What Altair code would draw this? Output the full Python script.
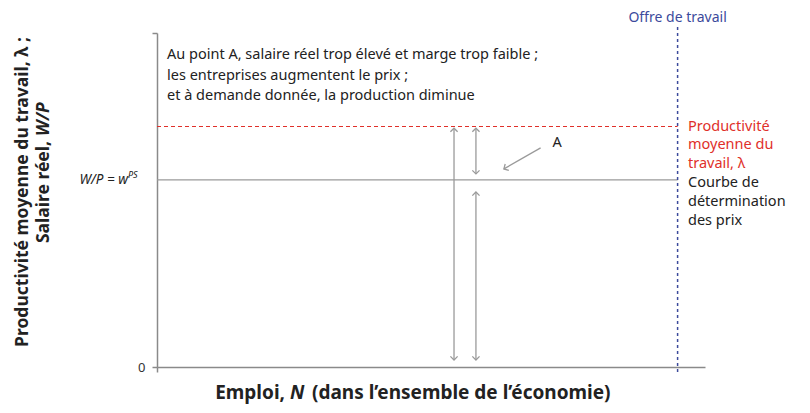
import altair as alt
import pandas as pd

x_max = 100.0
y_max = 100.0
lam = 72.0          # average productivity of labour, lambda
wps = 56.0          # price-setting real wage w^PS
n_supply = 95.0     # labour supply (vertical line)

# double-headed vertical arrows (x, top, bottom)
arrow_x = [54.2, 58.2, 58.2]
arrow_top = [71.5, 71.5, 52.4]
arrow_bot = [2.1, 57.8, 2.1]

# pointer arrow to point A
ptr_x = [70.0, 63.3]
ptr_y = [65.6, 59.3]
label_A_x = [73.0]
label_A_y = [67.0]

note_text = ("Au point A, salaire réel trop élevé et marge trop faible ;\n"
             "les entreprises augmentent le prix ;\n"
             "et à demande donnée, la production diminue")
red_text = "Productivité\nmoyenne du\ntravail, λ"
black_text = "Courbe de\ndétermination\ndes prix"
supply_text = "Offre de travail"

FONT = "Noto Sans"
GRAY = "#9a9a9a"
AXIS_GRAY = "#8a8a8a"
RED = "#e0302a"
BLUE = "#3c4a9c"
DARK = "#222222"

xs = alt.Scale(domain=[0, x_max], nice=False, zero=False)
ys = alt.Scale(domain=[0, y_max], nice=False, zero=False)

X_AX = alt.Axis(values=[0], labels=False, tickSize=5, grid=False, title=None,
                domainColor=AXIS_GRAY, tickColor=AXIS_GRAY, domainWidth=1.5, tickWidth=1.5)
Y_AX = alt.Axis(values=[0, y_max], labelExpr="datum.value == 0 ? '0' : ''",
                tickSize=5, grid=False, labelPadding=7, title=None,
                domainColor=AXIS_GRAY, tickColor=AXIS_GRAY, domainWidth=1.5, tickWidth=1.5,
                labelFont=FONT, labelFontSize=13, labelColor="#333333")


def X(f):
    return alt.X(f, scale=xs, axis=X_AX, title=None)


def Y(f):
    return alt.Y(f, scale=ys, axis=Y_AX, title=None)


# price-setting curve
wps_df = pd.DataFrame({"x": [0.0], "x2": [n_supply], "y": [wps]})
wps_rule = alt.Chart(wps_df).mark_rule(color=GRAY, strokeWidth=1.3).encode(
    x=X("x:Q"), x2="x2:Q", y=Y("y:Q"))

lam_df = pd.DataFrame({"x": [0.0], "x2": [n_supply], "y": [lam]})
lam_rule = alt.Chart(lam_df).mark_rule(color=RED, strokeWidth=1.2, strokeDash=[4, 3]).encode(
    x=X("x:Q"), x2="x2:Q", y=Y("y:Q"))

sup_df = pd.DataFrame({"x": [n_supply], "y": [101.8], "y2": [-1.5]})
sup_rule = alt.Chart(sup_df).mark_rule(color=BLUE, strokeWidth=1.5, strokeDash=[3, 3]).encode(
    x=X("x:Q"), y=Y("y:Q"), y2="y2:Q")

arr_df = pd.DataFrame({"x": arrow_x, "top": arrow_top, "bot": arrow_bot})
arr_rules = alt.Chart(arr_df).mark_rule(color=GRAY, strokeWidth=1.3).encode(
    x=X("x:Q"), y=Y("top:Q"), y2="bot:Q")

CHEV = "M-1,1L0,0L1,1"
heads_df = pd.DataFrame({
    "x": arrow_x + arrow_x + [ptr_x[1]],
    "y": arrow_top + arrow_bot + [ptr_y[1]],
    "ang": [0] * 3 + [180] * 3 + [240],
})
heads = alt.Chart(heads_df).mark_point(shape=CHEV, filled=False, size=52,
                                       color=GRAY, strokeWidth=1.3, opacity=1).encode(
    x=X("x:Q"), y=Y("y:Q"), angle=alt.Angle("ang:Q", scale=None))

ptr_df = pd.DataFrame({"x": [ptr_x[0]], "y": [ptr_y[0]], "x2": [ptr_x[1]], "y2": [ptr_y[1]]})
ptr_rule = alt.Chart(ptr_df).mark_rule(color=GRAY, strokeWidth=1.3).encode(
    x=X("x:Q"), x2="x2:Q", y=Y("y:Q"), y2="y2:Q")

labA = alt.Chart(pd.DataFrame({"x": label_A_x, "y": label_A_y, "t": ["A"]})).mark_text(
    font=FONT, fontSize=14.5, color=DARK, align="center", baseline="middle").encode(
    x=X("x:Q"), y=Y("y:Q"), text="t:N")


def txt(s, **kw):
    return alt.Chart(pd.DataFrame({"t": [s]})).mark_text(font=FONT, **kw).encode(text="t:N")


note = txt(note_text, fontSize=14.5, color=DARK, align="left", baseline="top",
           lineBreak="\n", lineHeight=20.5).encode(x=alt.value(10), y=alt.value(15))

red_lab = alt.Chart(pd.DataFrame({"y": [lam], "t": [red_text]})).mark_text(
    font=FONT, fontSize=14.5, color=RED, align="left", baseline="middle",
    lineBreak="\n", lineHeight=18.8).encode(
    x=alt.value(531), y=Y("y:Q"), text="t:N")

blk_lab = alt.Chart(pd.DataFrame({"y": [wps], "t": [black_text]})).mark_text(
    font=FONT, fontSize=14.5, color=DARK, align="left", baseline="middle",
    lineBreak="\n", lineHeight=18.8, dy=3).encode(
    x=alt.value(531), y=Y("y:Q"), text="t:N")

sup_lab = alt.Chart(pd.DataFrame({"x": [n_supply], "t": [supply_text]})).mark_text(
    font=FONT, fontSize=14, color=BLUE, align="center", baseline="middle").encode(
    x=X("x:Q"), y=alt.value(-15), text="t:N")

wp_lab = alt.Chart(pd.DataFrame({"y": [wps], "t": ["W/P = w"]})).mark_text(
    font=FONT, fontSize=13.5, fontStyle="italic", color=DARK, align="right",
    baseline="middle").encode(x=alt.value(-29), y=Y("y:Q"), text="t:N")
wp_sup = alt.Chart(pd.DataFrame({"y": [wps], "t": ["PS"]})).mark_text(
    font=FONT, fontSize=9, fontStyle="italic", color=DARK, align="left",
    baseline="middle", dy=-5).encode(x=alt.value(-29), y=Y("y:Q"), text="t:N")

# axis titles (mixed bold / bold italic)
xt1 = txt("Emploi,", fontSize=19, fontWeight="bold", color=DARK, align="right",
          baseline="middle").encode(x=alt.value(128), y=alt.value(360))
xt2 = txt("N", fontSize=19, fontWeight="bold", fontStyle="italic", color=DARK, align="left",
          baseline="middle").encode(x=alt.value(133), y=alt.value(360))
xt3 = txt("(dans l’ensemble de l’économie)", fontSize=19, fontWeight="bold", color=DARK,
          align="left", baseline="middle").encode(x=alt.value(155), y=alt.value(360))

yt1 = txt("Productivité moyenne du travail, λ ;", fontSize=17.5, fontWeight="bold", color=DARK,
          align="center", baseline="middle", angle=270).encode(x=alt.value(-134), y=alt.value(159))
yt2 = txt("Salaire réel,", fontSize=17.5, fontWeight="bold", color=DARK,
          align="right", baseline="middle", angle=270).encode(x=alt.value(-113), y=alt.value(108))
yt3 = txt("W/P", fontSize=17.5, fontWeight="bold", fontStyle="italic", color=DARK,
          align="left", baseline="middle", angle=270).encode(x=alt.value(-113), y=alt.value(103))

chart = alt.layer(
    wps_rule, lam_rule, sup_rule, arr_rules, heads, ptr_rule, labA,
    note, red_lab, blk_lab, sup_lab, wp_lab, wp_sup,
    xt1, xt2, xt3, yt1, yt2, yt3,
).properties(
    width=548, height=334,
    autosize=alt.AutoSizeParams(type="none"),
    padding={"left": 149, "top": 25, "right": 90, "bottom": 42},
).configure(background="white", view=alt.ViewConfig(stroke=None))

chart.save("out.html", embed_options={"renderer": "svg", "actions": False})
